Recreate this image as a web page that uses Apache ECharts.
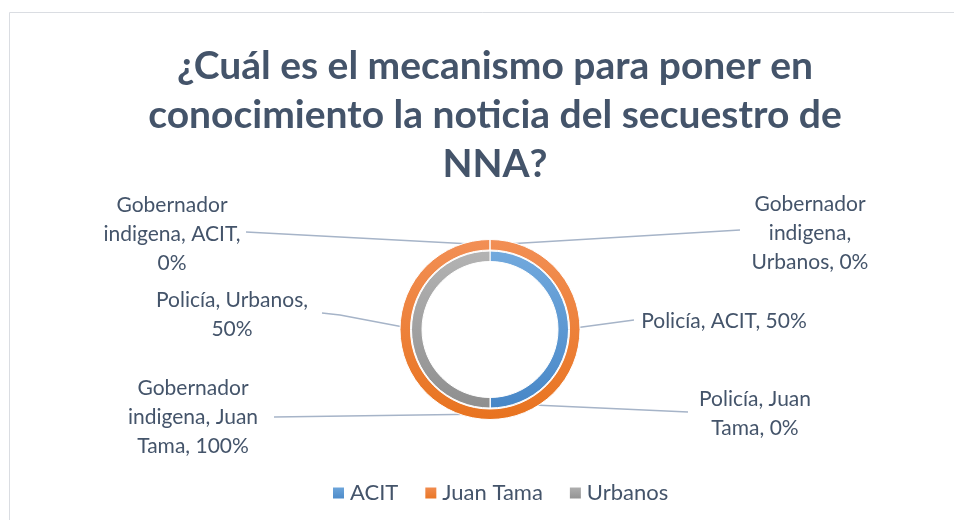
<!DOCTYPE html>
<html>
<head>
<meta charset="utf-8">
<script src="https://cdn.jsdelivr.net/npm/echarts@6/dist/echarts.min.js"></script>
<style>
  html, body { margin: 0; padding: 0; background: #fff; }
  #main { width: 954px; height: 520px; }
</style>
</head>
<body>
<div id="main"></div>
<script>
// categorias (leyenda) y series (anillos)
var categories = ['ACIT', 'Juan Tama', 'Urbanos'];
var seriesNames = ['Policía', 'Gobernador indigena'];
var policiaValues = [50, 0, 50];
var gobernadorValues = [0, 100, 0];

var colors = [
    ['#72a9dd', '#4887c7'],
    ['#f28f55', '#e8731f'],
    ['#b3b3b3', '#8f8f8f']
];
var textColor = '#44546a';
var center = [490, 329.5];
var ringMid = [73.5, 84.5];

// posicion de cada etiqueta: centro del texto, fin de la linea, palabras tras las que se corta
var labelPos = {
    '0-0': {x: 724, y: 321, end: [634, 320], breaks: []},
    '0-1': {x: 755, y: 414, end: [688, 412], breaks: [1]},
    '0-2': {x: 232, y: 315, end: [322, 313], bend: [340, 315], breaks: [1]},
    '1-0': {x: 172, y: 234, end: [246, 232], breaks: [0, 2]},
    '1-1': {x: 193, y: 417, end: [274, 417], breaks: [0, 2]},
    '1-2': {x: 810, y: 233, end: [740, 230], breaks: [0, 1]}
};

function makeData(values) {
    return categories.map(function (c, i) {
        return {
            name: c,
            value: values[i],
            itemStyle: {
                color: new echarts.graphic.LinearGradient(0, 0, 0, 1, [
                    {offset: 0, color: colors[i][0]},
                    {offset: 1, color: colors[i][1]}
                ])
            }
        };
    });
}

function midAngle(values, idx) {
    var total = values.reduce(function (a, b) { return a + b; }, 0);
    var before = 0;
    for (var i = 0; i < idx; i++) before += values[i];
    var frac = (before + values[idx] / 2) / total;
    return Math.PI / 2 - frac * Math.PI * 2;
}

var allValues = [policiaValues, gobernadorValues];

function labelText(p) {
    var words = (p.seriesName + ', ' + p.name + ', ' + p.value + '%').split(' ');
    var cfg = labelPos[p.seriesIndex + '-' + p.dataIndex];
    var out = '';
    words.forEach(function (w, i) {
        out += w;
        if (i < words.length - 1) out += (cfg.breaks.indexOf(i) >= 0 ? '\n' : ' ');
    });
    return out;
}

function layout(p) {
    var cfg = labelPos[p.seriesIndex + '-' + p.dataIndex];
    var a = midAngle(allValues[p.seriesIndex], p.dataIndex);
    var r = ringMid[p.seriesIndex];
    var start = [center[0] + r * Math.cos(a), center[1] - r * Math.sin(a)];
    var bend = cfg.bend || cfg.end;
    return {
        x: cfg.x,
        y: cfg.y,
        align: 'center',
        verticalAlign: 'middle',
        labelLinePoints: [start, bend, cfg.end]
    };
}

var labelCommon = {
    show: true,
    position: 'outside',
    formatter: labelText,
    color: textColor,
    fontFamily: 'Lato',
    fontSize: 21,
    lineHeight: 29,
    align: 'center'
};
var labelLineCommon = {
    show: true,
    lineStyle: {color: '#a6b4c8', width: 1.5}
};

var myChart = echarts.init(document.getElementById('main'));
var option = {
    backgroundColor: '#fff',
    animation: false,
    graphic: [{
        type: 'rect',
        shape: {x: 9.5, y: 12.5, width: 960, height: 540},
        style: {fill: 'none', stroke: '#dadde2', lineWidth: 1},
        silent: true
    }],
    title: {
        text: '¿Cuál es el mecanismo para poner en\nconocimiento la noticia del secuestro de\nNNA?',
        left: 490,
        top: 37,
        textAlign: 'center',
        textStyle: {
            color: textColor,
            fontFamily: 'Lato',
            fontWeight: 'bold',
            fontSize: 39,
            lineHeight: 49
        }
    },
    legend: {
        data: categories,
        left: 326,
        top: 477,
        icon: 'rect',
        itemWidth: 13,
        itemHeight: 13,
        itemGap: 25,
        textStyle: {color: textColor, fontFamily: 'Lato', fontSize: 22}
    },
    series: [{
        name: seriesNames[0],
        type: 'pie',
        center: center,
        radius: [68, 78.5],
        startAngle: 90,
        clockwise: true,
        minShowLabelAngle: 0,
        avoidLabelOverlap: false,
        itemStyle: {borderColor: '#fff', borderWidth: 1},
        label: labelCommon,
        labelLine: labelLineCommon,
        labelLayout: layout,
        data: makeData(policiaValues)
    }, {
        name: seriesNames[1],
        type: 'pie',
        center: center,
        radius: [79.5, 90],
        startAngle: 90,
        clockwise: true,
        minShowLabelAngle: 0,
        avoidLabelOverlap: false,
        itemStyle: {borderColor: '#fff', borderWidth: 1},
        label: labelCommon,
        labelLine: labelLineCommon,
        labelLayout: layout,
        data: makeData(gobernadorValues)
    }]
};
myChart.setOption(option);
</script>
</body>
</html>
